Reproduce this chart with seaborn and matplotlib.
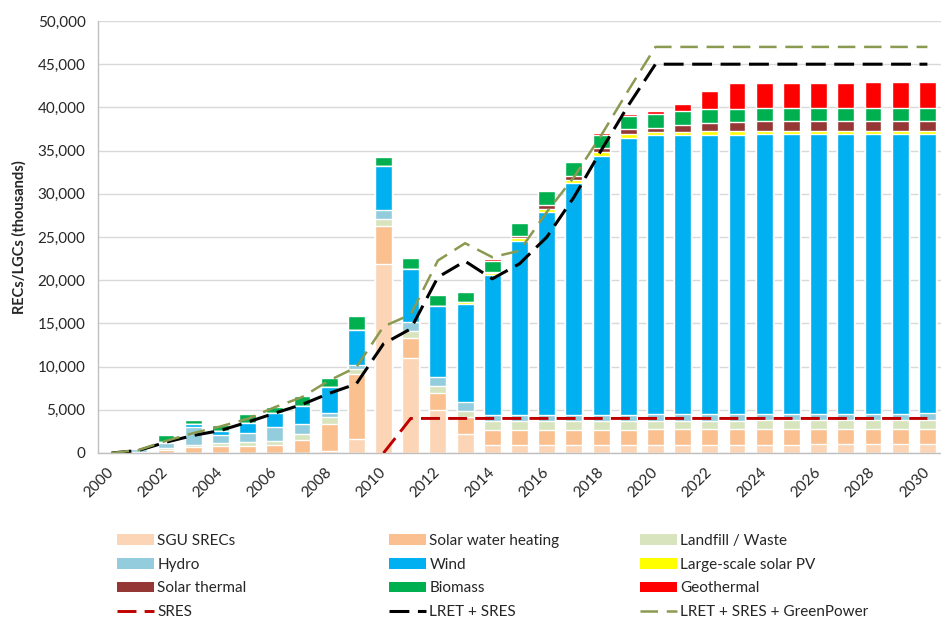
import numpy as np
import matplotlib
matplotlib.use("Agg")
import matplotlib.pyplot as plt
from matplotlib.patches import Patch
from matplotlib.lines import Line2D
from matplotlib.ticker import FuncFormatter
import seaborn as sns

sns.set_style("white")
plt.rcParams['font.family'] = ['Lato', 'DejaVu Sans']

years = list(range(2000, 2031))

# stacked components (thousands of certificates), bottom to top
sgu = [0, 0, 0, 0, 0, 0, 0, 0, 270, 1660, 21880, 10960, 4980, 2250,
       900, 900, 900, 900, 900, 900,
       920, 940, 950, 960, 970, 980, 990, 1000, 1010, 1020, 1030]
swh = [0, 50, 390, 650, 850, 850, 960, 1500, 3090, 7440, 4440, 2350, 1930, 1900] + [1800] * 17
landfill = [0, 50, 200, 270, 270, 390, 390, 690, 770, 660, 770, 850, 890, 750] + [1000] * 17
hydro = [0, 350, 540, 2040, 960, 1040, 1620, 1160, 460, 390, 1080, 960, 1040, 1000] + [750] * 17
wind = [0, 150, 200, 390, 500, 1160, 1660, 2120, 3090, 4130, 5020, 6200, 8150, 11290,
        16200, 20060, 23420, 26780, 29980, 32030,
        32300, 32300, 32350, 32350, 32350, 32350, 32350, 32330, 32320, 32310, 32300]
lspv = [0] * 13 + [270, 150, 390, 390, 420, 390, 460] + [390] * 11
solar_thermal = [0] * 14 + [100, 270, 390, 460, 460, 580, 500, 770, 960, 1080] + [1120] * 7
biomass = [0, 0, 740, 460, 620, 1080, 660, 1080, 960, 1540, 1040, 1230, 1310, 1230,
           1350, 1430, 1620, 1540, 1540, 1430, 1620, 1620, 1580, 1470] + [1580] * 7
geothermal = [0] * 14 + [190, 190, 190, 190, 190, 310, 310, 810, 2120, 2970,
                         2850, 2880, 2900, 2900, 2950, 2950, 2980]

# target lines
sres = [np.nan] * 10 + [0] + [4000] * 20
lret_sres = [0, 300, 1250, 2030, 2600, 3570, 4610, 5610, 6900, 8000, 12640, 14370,
             20350, 22200, 20160, 21900, 24980, 29600, 35010, 40220] + [45000] * 11
lret_sres_gp = [0, 350, 1400, 2300, 3070, 3960, 5300, 6460, 8390, 9930, 14640, 16030,
                22280, 24280, 22660, 23410, 27870, 31920, 36750, 41960] + [47000] * 11

series = [
    ("SGU SRECs", sgu, "#FBD5B5"),
    ("Solar water heating", swh, "#FAC090"),
    ("Landfill / Waste", landfill, "#D7E4BD"),
    ("Hydro", hydro, "#93CDDD"),
    ("Wind", wind, "#00B0F0"),
    ("Large-scale solar PV", lspv, "#FFFF00"),
    ("Solar thermal", solar_thermal, "#953735"),
    ("Biomass", biomass, "#00B050"),
    ("Geothermal", geothermal, "#FF0000"),
]

fig = plt.figure(figsize=(9.41, 6.21), dpi=100)
ax = fig.add_axes([98 / 941, 1 - 453 / 621, (941 - 98) / 941, 432 / 621])

labels = [str(y) for y in years]
cum = np.cumsum(np.array([s[1] for s in series], dtype=float), axis=0)
# draw cumulative totals from top layer down so each layer shows its own slice
for i in range(len(series) - 1, -1, -1):
    sns.barplot(x=labels, y=cum[i], color=series[i][2], saturation=1,
                width=0.62, errorbar=None, ax=ax, zorder=2)

xpos = np.arange(len(years))
ax.plot(xpos, sres, color="#C00000", lw=2.1, linestyle=(0, (6.5, 2.8)), zorder=3)
ax.plot(xpos, lret_sres, color="black", lw=2.2, linestyle=(0, (6.5, 2.8)), zorder=4)
ax.plot(xpos, lret_sres_gp, color="#8A9A50", lw=1.8, linestyle=(0, (7, 3.5)), zorder=4)

ax.set_ylim(0, 50000)
ax.set_xlim(-0.5, 30.32)
ax.set_yticks(np.arange(0, 50001, 5000))
ax.yaxis.set_major_formatter(FuncFormatter(lambda v, p: f"{v:,.0f}"))
ax.yaxis.grid(True, color="#D9D9D9", lw=1)
ax.set_axisbelow(True)

ax.set_xticks(range(0, 31, 2))
ax.set_xticklabels(labels[::2], rotation=45, ha="right", va="center",
                   rotation_mode="anchor")
ax.set_xticks(np.arange(-0.5, 31, 1), minor=True)
ax.tick_params(axis="x", which="major", length=0, pad=12, labelsize=11, colors="#262626")
ax.tick_params(axis="x", which="minor", length=5, color="#BFBFBF", width=1)
ax.tick_params(axis="y", length=5, color="#BFBFBF", labelsize=11, labelcolor="#262626", pad=4)

for s in ["top", "right"]:
    ax.spines[s].set_visible(False)
for s in ["left", "bottom"]:
    ax.spines[s].set_color("#BFBFBF")
    ax.spines[s].set_linewidth(1)

ax.set_xlabel("")
ax.set_ylabel("RECs/LGCs (thousands)", fontsize=10.5, fontweight="bold", labelpad=8)

patches = {name: Patch(facecolor=c, edgecolor="none") for name, _, c in series}
line_h = {
    "SRES": Line2D([], [], color="#C00000", lw=2.1, linestyle=(0, (6.5, 2.8))),
    "LRET + SRES": Line2D([], [], color="black", lw=2.2, linestyle=(0, (6.5, 2.8))),
    "LRET + SRES + GreenPower": Line2D([], [], color="#8A9A50", lw=1.8, linestyle=(0, (7, 3.5))),
}
cols = [
    (["SGU SRECs", "Hydro", "Solar thermal"], "SRES", 117),
    (["Solar water heating", "Wind", "Biomass"], "LRET + SRES", 389),
    (["Landfill / Waste", "Large-scale solar PV", "Geothermal"], "LRET + SRES + GreenPower", 640),
]
for names, lname, x0 in cols:
    h = [patches[n] for n in names] + [line_h[lname]]
    lab = names + [lname]
    leg = fig.legend(h, lab, loc="upper left", bbox_to_anchor=(x0 / 941, 1 - 534 / 621),
                     frameon=False, fontsize=11, handlelength=2.4, handleheight=0.7,
                     handletextpad=0.25, labelspacing=0.63, borderpad=0, borderaxespad=0)
    for t in leg.get_texts():
        t.set_color("#262626")

fig.savefig("out.png", dpi=100)
